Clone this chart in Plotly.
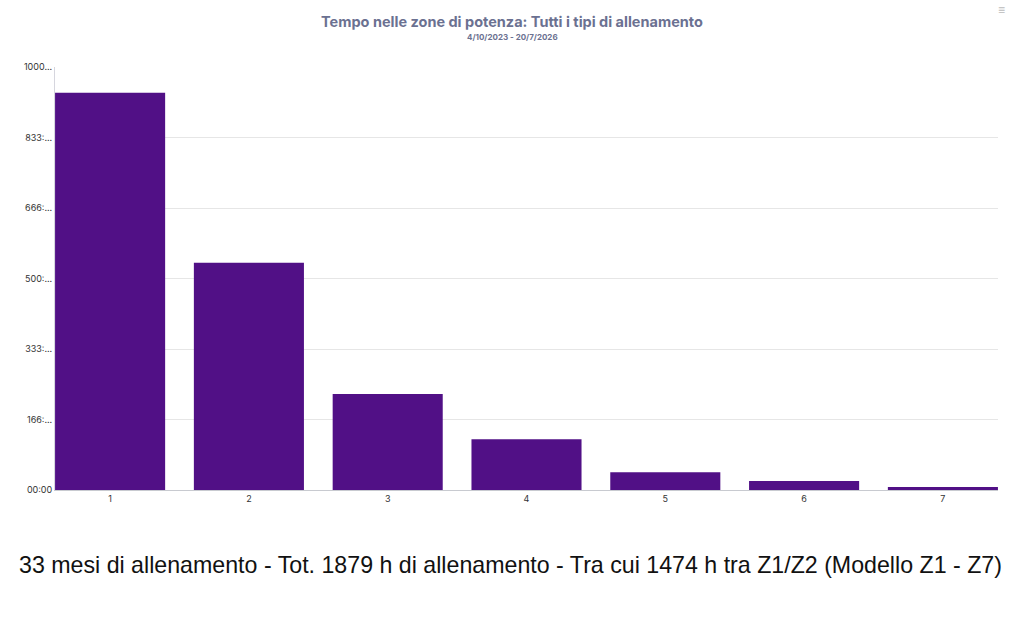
import plotly.graph_objects as go

zones = [1, 2, 3, 4, 5, 6, 7]
zone_labels = ["1", "2", "3", "4", "5", "6", "7"]
hours = [939, 537, 227, 120, 42, 21, 7]
tick_vals = [0, 166.667, 333.333, 500, 666.667, 833.333, 1000]
tick_text = ["00:00", "166:...", "333:...", "500:...", "666:...", "833:...", "1000..."]

title_text = "Tempo nelle zone di potenza: Tutti i tipi di allenamento"
subtitle_text = "4/10/2023 - 20/7/2026"
caption_text = "33 mesi di allenamento - Tot. 1879 h di allenamento - Tra cui 1474 h tra Z1/Z2 (Modello Z1 - Z7)"

L, R, T, B = 55, 26, 67, 140
W, H = 1024, 630
plot_h = H - T - B
plot_w = W - L - R


def px(x):
    return (x - L) / plot_w


def py(y):
    return (H - B - y) / plot_h


fig = go.Figure()
fig.add_trace(go.Bar(
    x=zones, y=hours, width=0.793,
    marker=dict(color="#511086", line=dict(width=0)),
    hoverinfo="x+y",
))

fig.update_layout(
    width=W, height=H,
    margin=dict(l=L, r=R, t=T, b=B),
    paper_bgcolor="white", plot_bgcolor="white",
    showlegend=False,
    font=dict(family="Inter, Roboto, sans-serif", color="#444"),
    xaxis=dict(
        range=[1 - 0.397, 7 + 0.397],
        tickmode="array", tickvals=zones, ticktext=zone_labels,
        showgrid=False, zeroline=False,
        showline=True, linecolor="#c8cad0", linewidth=1,
        ticks="", tickfont=dict(size=9, color="#333"),
    ),
    yaxis=dict(
        range=[0, 1000],
        tickmode="array", tickvals=tick_vals, ticktext=tick_text,
        showgrid=True, gridcolor="#e6e6e6", gridwidth=1,
        zeroline=False,
        showline=True, linecolor="#d6d6de", linewidth=1,
        ticks="", tickfont=dict(size=9, color="#333"),
    ),
    annotations=[
        dict(text="<b>" + title_text + "</b>", x=px(512), y=py(21), xref="paper", yref="paper",
             xanchor="center", yanchor="middle",
             showarrow=False, font=dict(size=14.5, color="#6b7191", family="Inter, sans-serif")),
        dict(text="<b>" + subtitle_text + "</b>", x=px(512), y=py(37), xref="paper", yref="paper",
             xanchor="center", yanchor="middle",
             showarrow=False, font=dict(size=8, color="#6b7191", family="Inter, sans-serif")),
        dict(text=caption_text, x=px(510.5), y=py(565), xref="paper", yref="paper",
             xanchor="center", yanchor="middle",
             showarrow=False, font=dict(size=23.2, color="#111", family="Liberation Sans, Arial, sans-serif")),
        dict(text="≡", x=px(1001), y=py(9), xref="paper", yref="paper", showarrow=False,
             xanchor="center", yanchor="middle",
             font=dict(size=12, color="#bbb")),
    ],
)

fig.write_html("out.html")
